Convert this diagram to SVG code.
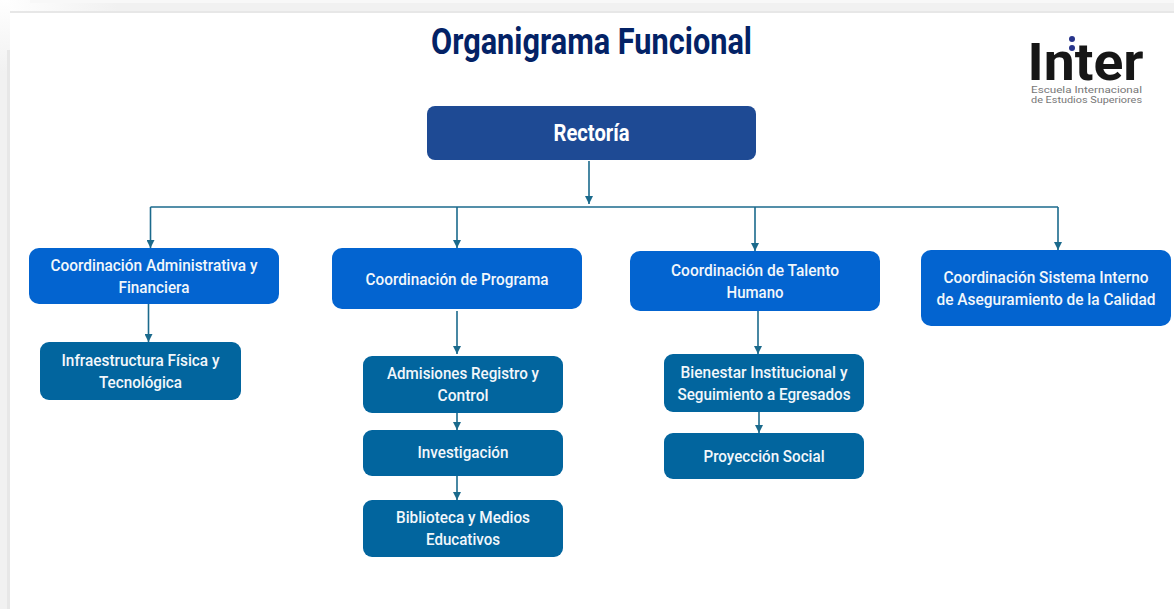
<svg xmlns="http://www.w3.org/2000/svg" width="1174" height="609" viewBox="0 0 1174 609">
<defs>
<linearGradient id="topFade" x1="0" y1="0" x2="1" y2="0"><stop offset="0" stop-color="#ffffff"/><stop offset="0.1" stop-color="#f1f1f1"/><stop offset="1" stop-color="#f1f1f1"/></linearGradient>
<linearGradient id="leftFade" x1="0" y1="0" x2="0" y2="1"><stop offset="0" stop-color="#ffffff"/><stop offset="0.12" stop-color="#f1f1f1"/><stop offset="1" stop-color="#f1f1f1"/></linearGradient>
<marker id="arrow" markerUnits="userSpaceOnUse" markerWidth="9" markerHeight="8" refX="8" refY="4" orient="auto"><path d="M0 0L8 4L0 8Z" fill="#1b6a8c"/></marker>
</defs>
<style>
text{font-family:"Roboto","Liberation Sans",sans-serif;text-anchor:middle}
.lb{font-size:16.500px;font-weight:500;fill:#f2f7fb}
.co{fill:#0364d0}.su{fill:#02659e}
.ln{fill:none;stroke:#1b6a8c;stroke-width:1.6}
.ar{marker-end:url(#arrow)}
</style>
<rect width="1174" height="609" fill="#ffffff"/>
<rect id="band-top" x="0" y="0" width="1174" height="13" fill="url(#topFade)"/>
<rect x="30" y="0" width="1144" height="3" fill="#f8f8f8"/>
<rect id="band-left" x="0" y="0" width="10" height="609" fill="url(#leftFade)"/>
<rect x="10" y="11" width="1164" height="2" fill="#e7e7e7"/>
<rect x="7" y="50" width="3" height="559" fill="#e7e7e7"/>
<g id="title"><text x="591.500" y="54" font-size="36" font-weight="700" fill="#032266" textLength="321" lengthAdjust="spacingAndGlyphs">Organigrama Funcional</text></g>
<g id="logo">
<text x="1085.500" y="80" font-size="51" font-weight="700" fill="#161616" textLength="116" lengthAdjust="spacingAndGlyphs">Inter</text>
<circle cx="1072" cy="39" r="3" fill="#27348b"/><circle cx="1072" cy="48" r="3" fill="#27348b"/>
<text x="1086.500" y="92.500" font-size="9.500" fill="#777777" textLength="111" lengthAdjust="spacingAndGlyphs">Escuela Internacional</text>
<text x="1086.500" y="102.500" font-size="9.500" fill="#777777" textLength="111" lengthAdjust="spacingAndGlyphs">de Estudios Superiores</text>
</g>
<g id="connectors">
<path class="ln ar" d="M589 161V204"/>
<path class="ln" d="M150.500 207H1058"/>
<path class="ln ar" d="M150.500 207V248"/>
<path class="ln ar" d="M457 207V248"/>
<path class="ln ar" d="M755 207V251"/>
<path class="ln ar" d="M1058 207V250"/>
<path class="ln ar" d="M148.500 304V342"/>
<path class="ln ar" d="M457 311V354"/>
<path class="ln ar" d="M457 412V430"/>
<path class="ln ar" d="M457 475V500"/>
<path class="ln ar" d="M758 311V354"/>
<path class="ln ar" d="M759 412V433"/>
</g>
<g id="rectoria"><rect x="427" y="106" width="329" height="54" rx="8" fill="#1e4a94"/><text x="591.500" y="141" font-size="23" font-weight="700" fill="#ffffff" textLength="76" lengthAdjust="spacingAndGlyphs">Rectoría</text></g>
<g id="coord-admin"><rect class="co" x="29" y="248" width="250" height="56" rx="10"/><text class="lb" x="154" y="271" textLength="207" lengthAdjust="spacingAndGlyphs">Coordinación Administrativa y</text><text class="lb" x="154" y="293" textLength="71" lengthAdjust="spacingAndGlyphs">Financiera</text></g>
<g id="coord-programa"><rect class="co" x="332" y="248" width="250" height="61" rx="10"/><text class="lb" x="457" y="285" textLength="183" lengthAdjust="spacingAndGlyphs">Coordinación de Programa</text></g>
<g id="coord-talento"><rect class="co" x="630" y="251" width="250" height="60" rx="10"/><text class="lb" x="755" y="276" textLength="168" lengthAdjust="spacingAndGlyphs">Coordinación de Talento</text><text class="lb" x="755" y="298" textLength="57" lengthAdjust="spacingAndGlyphs">Humano</text></g>
<g id="coord-sistema"><rect class="co" x="921" y="250" width="250" height="76" rx="10"/><text class="lb" x="1046" y="283" textLength="205" lengthAdjust="spacingAndGlyphs">Coordinación Sistema Interno</text><text class="lb" x="1046" y="305" textLength="219" lengthAdjust="spacingAndGlyphs">de Aseguramiento de la Calidad</text></g>
<g id="infraestructura"><rect class="su" x="40" y="342" width="201" height="58" rx="9"/><text class="lb" x="140.500" y="366" textLength="158" lengthAdjust="spacingAndGlyphs">Infraestructura Física y</text><text class="lb" x="140.500" y="388" textLength="83" lengthAdjust="spacingAndGlyphs">Tecnológica</text></g>
<g id="admisiones"><rect class="su" x="363" y="356" width="200" height="57" rx="9"/><text class="lb" x="463" y="379" textLength="152" lengthAdjust="spacingAndGlyphs">Admisiones Registro y</text><text class="lb" x="463" y="401" textLength="51" lengthAdjust="spacingAndGlyphs">Control</text></g>
<g id="investigacion"><rect class="su" x="363" y="430" width="200" height="46" rx="9"/><text class="lb" x="463" y="458" textLength="91" lengthAdjust="spacingAndGlyphs">Investigación</text></g>
<g id="biblioteca"><rect class="su" x="363" y="500" width="200" height="57" rx="9"/><text class="lb" x="463" y="523" textLength="134" lengthAdjust="spacingAndGlyphs">Biblioteca y Medios</text><text class="lb" x="463" y="545" textLength="74" lengthAdjust="spacingAndGlyphs">Educativos</text></g>
<g id="bienestar"><rect class="su" x="664" y="354" width="200" height="58" rx="9"/><text class="lb" x="764" y="378" textLength="167" lengthAdjust="spacingAndGlyphs">Bienestar Institucional y</text><text class="lb" x="764" y="400" textLength="173" lengthAdjust="spacingAndGlyphs">Seguimiento a Egresados</text></g>
<g id="proyeccion"><rect class="su" x="664" y="433" width="200" height="46" rx="9"/><text class="lb" x="764" y="462" textLength="121" lengthAdjust="spacingAndGlyphs">Proyección Social</text></g>
</svg>
